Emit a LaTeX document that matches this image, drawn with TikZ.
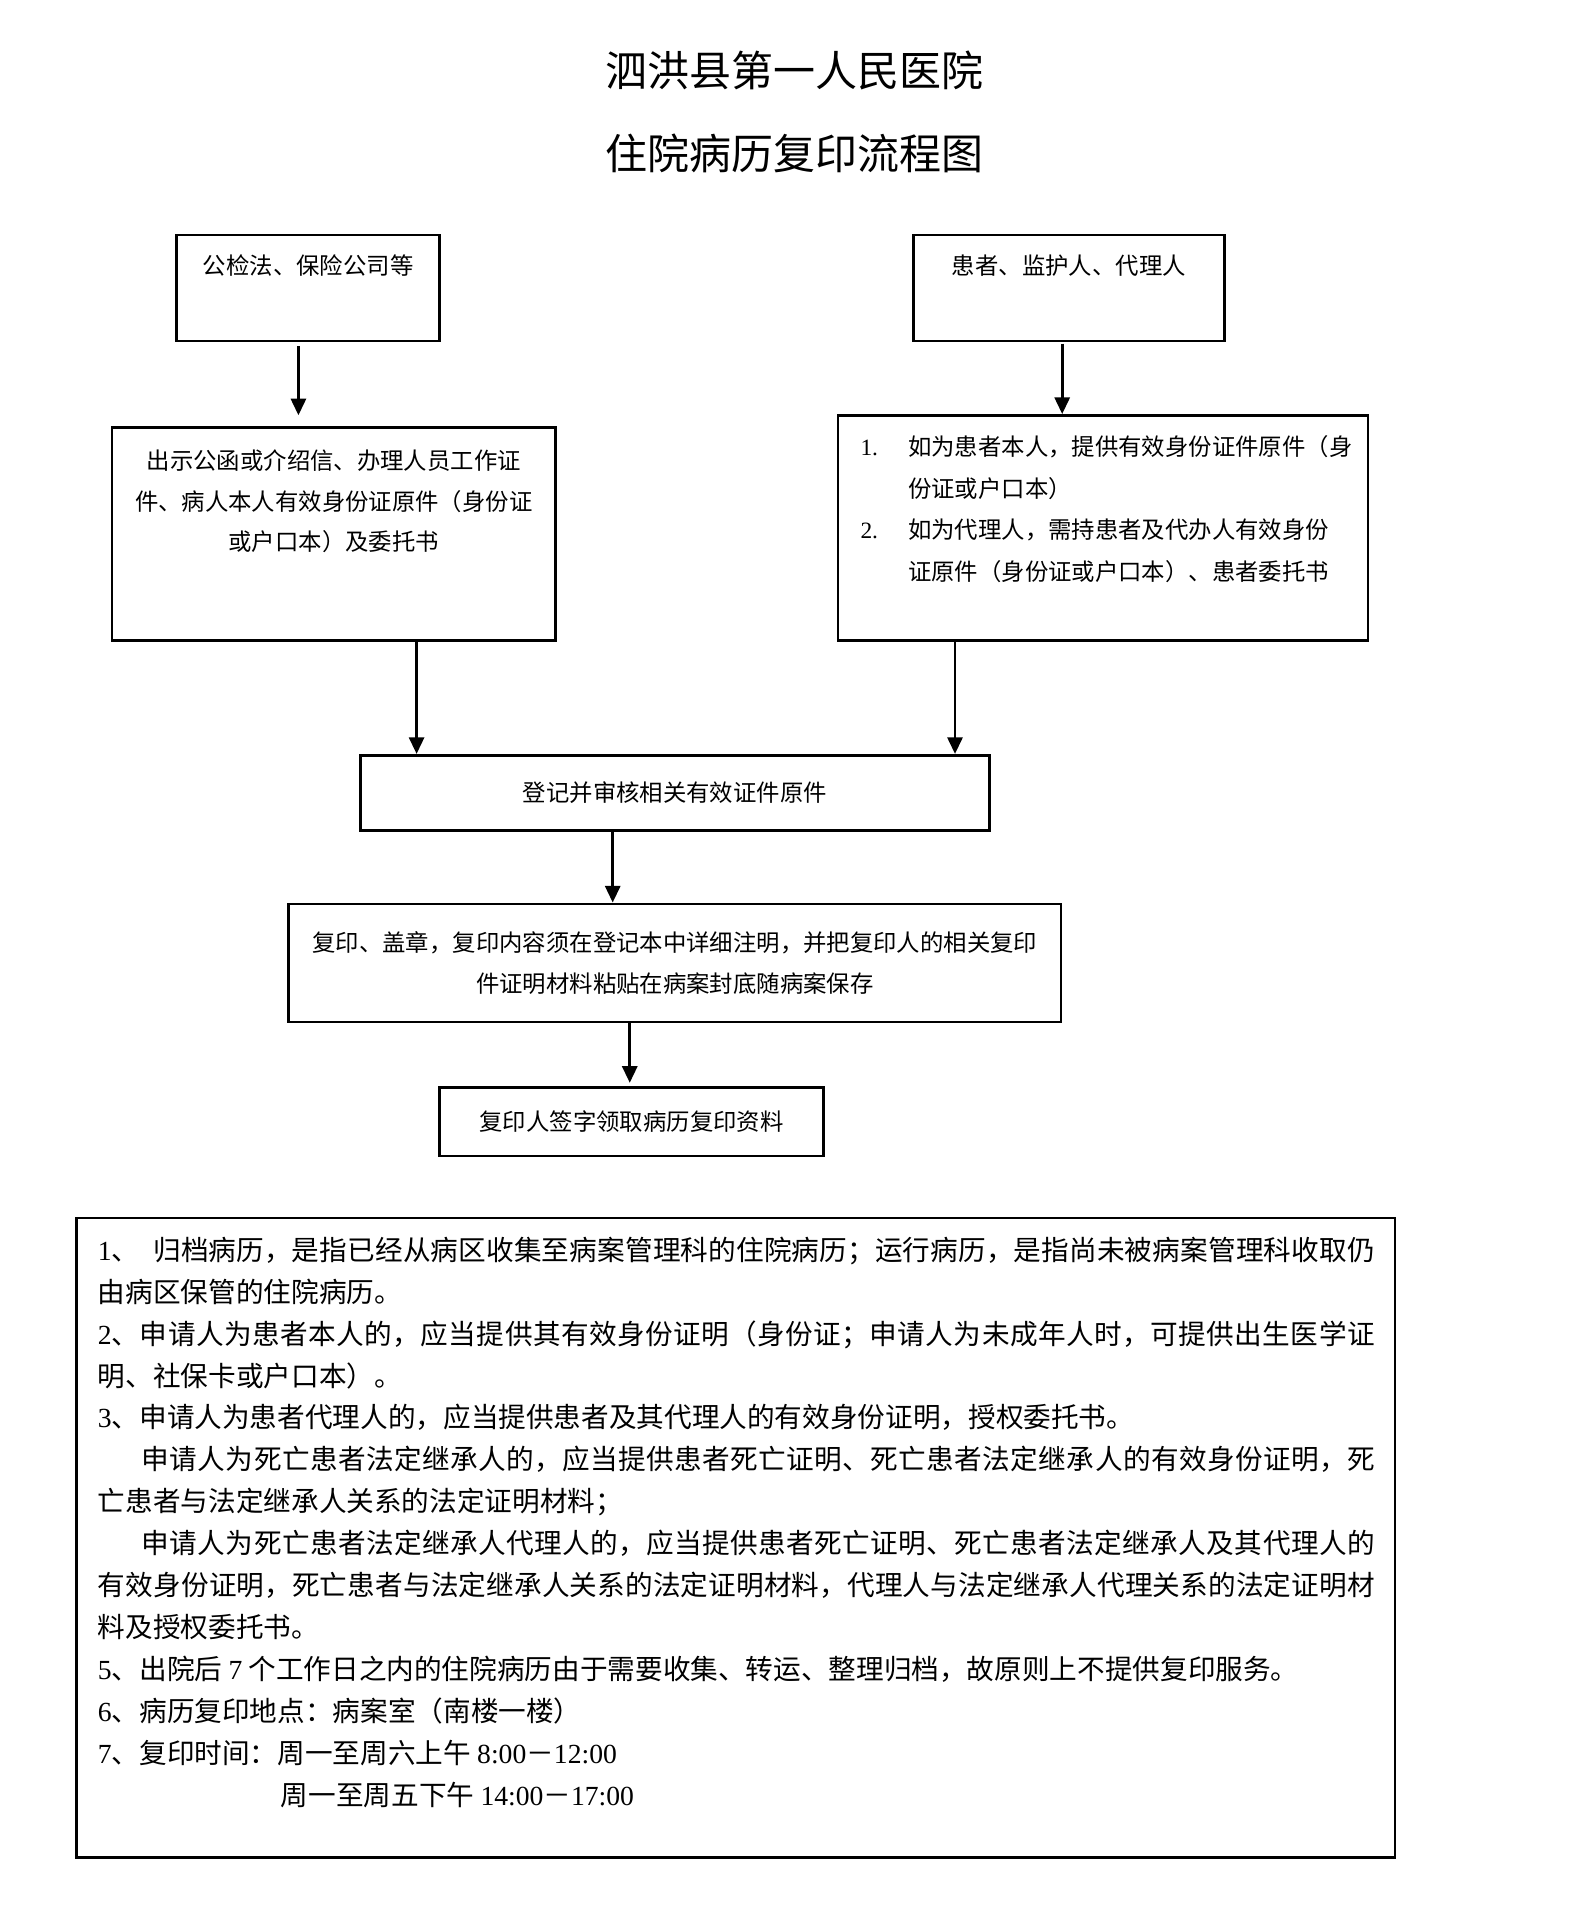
\documentclass[tikz,border=0pt]{standalone}
\usepackage{fontspec}
\setmainfont{Noto Sans CJK SC}
\newfontfamily\latin{Liberation Serif}
\usepackage{tikz}
\usetikzlibrary{positioning, arrows.meta, calc}
\XeTeXlinebreaklocale "zh"
\XeTeXlinebreakskip=0pt plus 1pt minus 0.3pt
\setlength{\parindent}{0pt}
\setlength{\parskip}{0pt}

\begin{document}
\begin{tikzpicture}[
    x=0.0161166cm, y=0.0161166cm,
    heading/.style={
        inner sep=0pt,
        font=\fontsize{15.8}{19}\selectfont,
    },
    box/.style={
        rectangle,
        draw=black,
        line width=1pt,
        inner sep=0pt,
        align=center,
        font=\fontsize{8.8}{15.4}\selectfont,
    },
    boxtext/.style={
        inner sep=0pt,
        align=center,
        font=\fontsize{8.8}{15.4}\selectfont,
    },
    note/.style={
        inner sep=0pt,
        text width=16.89cm,
        align=justify,
        font=\fontsize{10.4}{15.77}\selectfont,
    },
    link/.style={-{Triangle[length=2.2mm, width=2mm]}, line width=1pt},
]

\useasboundingbox (0,0) rectangle (1303,-1568);

\node[heading] (title1) at (652,-58)  {泗洪县第一人民医院};
\node[heading] (title2) at (652,-126) {住院病历复印流程图};

\node[box, minimum width=3.481cm, minimum height=1.402cm] (pub) at (253,-236.5) {};
\node[boxtext] (pubtxt) at (253,-218) {公检法、保险公司等};

\node[box, minimum width=4.110cm, minimum height=1.402cm] (patient) at (877.5,-236.5) {};
\node[boxtext] (patienttxt) at (877.5,-218) {患者、监护人、代理人};

\node[box, minimum width=5.866cm, minimum height=2.820cm] (cert) at (274,-438.5) {};
\node[boxtext] (certtxt) at (274,-411.5) {出示公函或介绍信、办理人员工作证\\件、病人本人有效身份证原件（身份证\\或户口本）及委托书};

\node[box, minimum width=7.011cm, minimum height=2.982cm] (ident) at (905.5,-433.5) {};
\node[boxtext, align=left, anchor=west, font=\fontsize{8.8}{15.6}\selectfont] (identtxt) at (706,-418)
    {\makebox[0.63cm][l]{\latin 1.}如为患者本人，提供有效身份证件原件（身\\
     \hspace*{0.63cm}份证或户口本）\\
     \makebox[0.63cm][l]{\latin 2.}如为代理人，需持患者及代办人有效身份\\
     \hspace*{0.63cm}证原件（身份证或户口本）、患者委托书};

\node[box, minimum width=8.316cm, minimum height=0.999cm] (reg) at (554,-651) {登记并审核相关有效证件原件};

\node[box, minimum width=10.218cm, minimum height=1.563cm] (copy) at (554,-790.5)
    {复印、盖章，复印内容须在登记本中详细注明，并把复印人的相关复印\\件证明材料粘贴在病案封底随病案保存};

\node[box, minimum width=5.077cm, minimum height=0.903cm] (sign) at (518.5,-921) {复印人签字领取病历复印资料};

\draw[link] ($(pub.south)+(-8,-3)$)      -- ($(cert.north)+(-29,9)$);
\draw[link] ($(patient.south)+(-5.5,-1)$) -- ($(ident.north)+(-33.5,0)$);
\draw[link] ($(cert.south)+(68,0)$)       -- ($(reg.north)+(-212,0)$);
\draw[link] ($(ident.south)+(-121.5,0)$)  -- ($(reg.north)+(230,0)$);
\draw[link] ($(reg.south)+(-51,0)$)       -- ($(copy.north)+(-51,0)$);
\draw[link] ($(copy.south)+(-37,0)$)      -- ($(sign.north)+(-1.5,3)$);

\node[box, minimum width=17.438cm, minimum height=8.461cm] (notes) at (604,-1262.5) {};
\node[note, anchor=north west] (notetxt) at (80,-1015) {%
{\latin 1}、\hspace{0.5em}归档病历，是指已经从病区收集至病案管理科的住院病历；运行病历，是指尚未被病案管理科收取仍\linebreak 由病区保管的住院病历。\par
{\latin 2}、申请人为患者本人的，应当提供其有效身份证明（身份证；申请人为未成年人时，可提供出生医学证\linebreak 明、社保卡或户口本）。\par
{\latin 3}、申请人为患者代理人的，应当提供患者及其代理人的有效身份证明，授权委托书。\par
\hspace*{0.58cm}申请人为死亡患者法定继承人的，应当提供患者死亡证明、死亡患者法定继承人的有效身份证明，死\linebreak 亡患者与法定继承人关系的法定证明材料；\par
\hspace*{0.58cm}申请人为死亡患者法定继承人代理人的，应当提供患者死亡证明、死亡患者法定继承人及其代理人的\linebreak 有效身份证明，死亡患者与法定继承人关系的法定证明材料，代理人与法定继承人代理关系的法定证明材\linebreak 料及授权委托书。\par
{\latin 5}、出院后 {\latin 7} 个工作日之内的住院病历由于需要收集、转运、整理归档，故原则上不提供复印服务。\par
{\latin 6}、病历复印地点：病案室（南楼一楼）\par
{\latin 7}、复印时间：周一至周六上午 {\latin 8:00}－{\latin 12:00}\par
\hspace*{2.42cm}周一至周五下午 {\latin 14:00}－{\latin 17:00}};

\end{tikzpicture}
\end{document}
